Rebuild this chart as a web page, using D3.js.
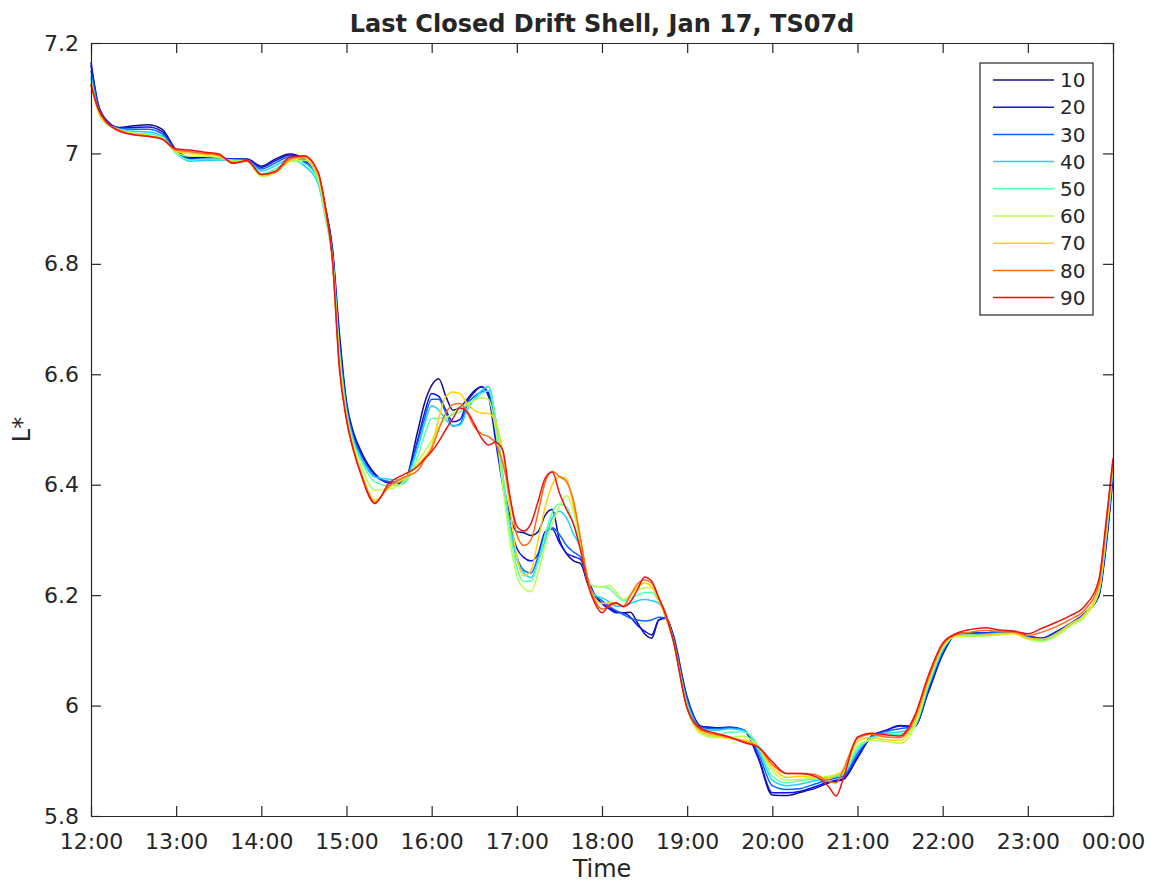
<!DOCTYPE html>
<html>
<head>
<meta charset="utf-8">
<script src="https://cdn.jsdelivr.net/npm/d3@7"></script>
<style>
  html, body { margin: 0; padding: 0; background: #fff; }
  svg { display: block; }
  text { font-family: "DejaVu Sans", sans-serif; fill: #262626; }
</style>
</head>
<body>
<script>
// Sample times, minutes after 12:00 on Jan 17
const minutes = [
  0, 5, 10, 20, 30, 40, 50, 60, 70, 80, 90, 100, 110, 120, 130, 140, 150, 160,
  165, 170, 175, 180, 185, 190, 200, 210, 220,
  230, 235, 240, 245, 250, 255, 260, 265, 270, 275, 280, 285, 290, 295, 300,
  305, 310, 315, 320, 325, 330, 335, 340, 345, 350, 355, 360, 365, 370, 375,
  380, 385, 390, 395, 400, 405, 410,
  420, 430, 440, 450, 460, 470, 480, 490, 500, 510, 520, 525, 530, 540, 550,
  560, 570, 580, 590, 600, 610, 620, 630, 640, 650, 660, 670, 680, 690, 700,
  710, 715, 720
];

// Equatorial pitch angles (deg) of the traced drift shells
const pitchAngles = [10, 20, 30, 40, 50, 60, 70, 80, 90];

// L* of the last closed drift shell, one array per pitch angle
const lstar10 = [
  7.165, 7.09, 7.063, 7.047, 7.05, 7.052, 7.044, 7.006, 6.993, 6.992, 6.991, 6.99, 6.99, 6.977, 6.99, 6.999, 6.99, 6.962,
  6.905, 6.83, 6.675, 6.55, 6.494, 6.462, 6.42, 6.403, 6.402,
  6.495, 6.548, 6.58, 6.592, 6.56, 6.535, 6.54, 6.555, 6.57, 6.577, 6.566, 6.49, 6.41, 6.345, 6.315,
  6.313, 6.308, 6.315, 6.345, 6.355, 6.3, 6.275, 6.262, 6.257, 6.22, 6.198, 6.185, 6.177, 6.17, 6.168,
  6.169, 6.15, 6.13, 6.122, 6.155, 6.16, 6.13,
  6.015, 5.962, 5.96, 5.96, 5.955, 5.905, 5.838, 5.837, 5.843, 5.85, 5.86, 5.863, 5.866, 5.905, 5.944,
  5.955, 5.964, 5.962, 6.025, 6.092, 6.13, 6.132, 6.132, 6.133, 6.133, 6.126, 6.122, 6.133, 6.148, 6.166,
  6.198, 6.285, 6.415
];
const lstar20 = [
  7.16, 7.088, 7.062, 7.046, 7.047, 7.048, 7.04, 7.006, 6.991, 6.991, 6.99, 6.99, 6.989, 6.975, 6.987, 6.997, 6.988, 6.958,
  6.9, 6.828, 6.665, 6.545, 6.49, 6.458, 6.418, 6.404, 6.403,
  6.48, 6.53, 6.565, 6.56, 6.535, 6.514, 6.518, 6.55, 6.567, 6.578, 6.56, 6.48, 6.4, 6.33, 6.285,
  6.268, 6.262, 6.275, 6.315, 6.32, 6.295, 6.276, 6.27, 6.264, 6.23, 6.2, 6.185, 6.175, 6.168, 6.168,
  6.16, 6.145, 6.135, 6.128, 6.155, 6.158, 6.125,
  6.012, 5.962, 5.96, 5.961, 5.956, 5.908, 5.842, 5.842, 5.845, 5.853, 5.862, 5.865, 5.868, 5.908, 5.945,
  5.955, 5.963, 5.962, 6.028, 6.095, 6.13, 6.132, 6.132, 6.134, 6.133, 6.126, 6.122, 6.134, 6.149, 6.167,
  6.2, 6.29, 6.42
];
const lstar30 = [
  7.15, 7.085, 7.06, 7.045, 7.044, 7.044, 7.036, 7.004, 6.989, 6.989, 6.989, 6.989, 6.988, 6.972, 6.983, 6.994, 6.985, 6.952,
  6.895, 6.825, 6.655, 6.54, 6.485, 6.452, 6.415, 6.406, 6.405,
  6.475, 6.52, 6.555, 6.555, 6.53, 6.506, 6.51, 6.545, 6.56, 6.568, 6.57, 6.5, 6.41, 6.33, 6.27,
  6.245, 6.24, 6.27, 6.31, 6.322, 6.31, 6.29, 6.278, 6.268, 6.225, 6.2, 6.19, 6.18, 6.172, 6.165,
  6.158, 6.155, 6.153, 6.155, 6.16, 6.158, 6.125,
  6.01, 5.96, 5.958, 5.96, 5.956, 5.915, 5.855, 5.848, 5.85, 5.858, 5.866, 5.869, 5.872, 5.913, 5.944,
  5.953, 5.958, 5.962, 6.032, 6.098, 6.129, 6.131, 6.131, 6.133, 6.133, 6.125, 6.121, 6.132, 6.148, 6.166,
  6.203, 6.295, 6.425
];
const lstar40 = [
  7.14, 7.08, 7.057, 7.044, 7.04, 7.039, 7.032, 7.0, 6.986, 6.987, 6.988, 6.988, 6.987, 6.968, 6.978, 6.99, 6.978, 6.945,
  6.885, 6.815, 6.645, 6.535, 6.48, 6.45, 6.414, 6.41, 6.408,
  6.465, 6.51, 6.543, 6.535, 6.518, 6.507, 6.508, 6.535, 6.555, 6.57, 6.578, 6.52, 6.42, 6.33, 6.265,
  6.24, 6.232, 6.26, 6.3, 6.34, 6.352, 6.34, 6.31, 6.285, 6.225, 6.2, 6.195, 6.188, 6.18, 6.18,
  6.185, 6.19, 6.192, 6.19, 6.185, 6.165, 6.12,
  6.005, 5.958, 5.955, 5.958, 5.955, 5.922, 5.865, 5.855, 5.858, 5.864, 5.868, 5.872, 5.876, 5.918, 5.942,
  5.95, 5.952, 5.962, 6.035, 6.1, 6.127, 6.128, 6.129, 6.131, 6.132, 6.123, 6.119, 6.13, 6.147, 6.165,
  6.205, 6.3, 6.43
];
const lstar50 = [
  7.135, 7.078, 7.055, 7.043, 7.037, 7.035, 7.03, 7.0, 6.988, 6.99, 6.99, 6.987, 6.986, 6.963, 6.972, 6.987, 6.982, 6.95,
  6.885, 6.812, 6.64, 6.53, 6.475, 6.445, 6.405, 6.398, 6.402,
  6.45, 6.49, 6.52, 6.52, 6.522, 6.527, 6.532, 6.545, 6.553, 6.565, 6.57, 6.52, 6.42, 6.32, 6.25,
  6.225, 6.225, 6.26, 6.31, 6.35, 6.365, 6.36, 6.33, 6.29, 6.23, 6.215, 6.215, 6.212, 6.2, 6.19,
  6.195, 6.2, 6.205, 6.205, 6.19, 6.165, 6.12,
  6.0, 5.952, 5.945, 5.952, 5.952, 5.928, 5.872, 5.86, 5.864, 5.867, 5.87, 5.873, 5.877, 5.923, 5.94,
  5.947, 5.948, 5.962, 6.038, 6.103, 6.126, 6.126, 6.127, 6.129, 6.131, 6.121, 6.117, 6.127, 6.145, 6.163,
  6.206, 6.305, 6.435
];
const lstar60 = [
  7.13, 7.076, 7.055, 7.043, 7.036, 7.033, 7.028, 7.002, 6.995, 6.995, 6.993, 6.986, 6.986, 6.958, 6.965, 6.985, 6.988, 6.955,
  6.89, 6.81, 6.63, 6.525, 6.47, 6.435, 6.39, 6.392, 6.405,
  6.44, 6.46, 6.48, 6.505, 6.52, 6.53, 6.539, 6.547, 6.553, 6.557, 6.555, 6.5, 6.4, 6.3, 6.235,
  6.212, 6.206, 6.24, 6.29, 6.33, 6.36, 6.38, 6.35, 6.29, 6.225, 6.216, 6.215, 6.218, 6.205, 6.192,
  6.2, 6.21, 6.213, 6.214, 6.195, 6.165, 6.12,
  5.995, 5.948, 5.942, 5.942, 5.945, 5.925, 5.882, 5.865, 5.866, 5.869, 5.872, 5.875, 5.879, 5.928, 5.937,
  5.935, 5.932, 5.96, 6.042, 6.105, 6.125, 6.125, 6.126, 6.128, 6.13, 6.12, 6.116, 6.126, 6.144, 6.161,
  6.208, 6.31, 6.438
];
const lstar70 = [
  7.125, 7.078, 7.057, 7.042, 7.035, 7.032, 7.027, 7.004, 7.0, 6.998, 6.995, 6.985, 6.986, 6.96, 6.966, 6.987, 6.992, 6.96,
  6.895, 6.81, 6.62, 6.52, 6.465, 6.425, 6.372, 6.395, 6.41,
  6.435, 6.45, 6.47, 6.52, 6.56, 6.568, 6.565, 6.547, 6.535, 6.53, 6.529, 6.515, 6.46, 6.36, 6.27,
  6.235, 6.245, 6.3, 6.36, 6.4, 6.414, 6.41, 6.36, 6.3, 6.225, 6.195, 6.185, 6.186, 6.185, 6.18,
  6.2, 6.215, 6.222, 6.215, 6.19, 6.16, 6.12,
  5.995, 5.952, 5.945, 5.94, 5.938, 5.925, 5.888, 5.87, 5.872, 5.87, 5.868, 5.875, 5.882, 5.935, 5.942,
  5.938, 5.937, 5.968, 6.046, 6.108, 6.127, 6.127, 6.128, 6.13, 6.131, 6.122, 6.12, 6.13, 6.148, 6.165,
  6.212, 6.315, 6.44
];
const lstar80 = [
  7.125, 7.08, 7.058, 7.042, 7.034, 7.031, 7.026, 7.006, 7.003, 7.0, 6.997, 6.983, 6.986, 6.962, 6.966, 6.99, 6.995, 6.965,
  6.9, 6.81, 6.615, 6.52, 6.463, 6.422, 6.368, 6.398, 6.413,
  6.425, 6.445, 6.465, 6.5, 6.53, 6.545, 6.547, 6.53, 6.505, 6.492, 6.487, 6.475, 6.44, 6.38, 6.31,
  6.29, 6.3, 6.35, 6.405, 6.424, 6.415, 6.405, 6.37, 6.3, 6.23, 6.19, 6.175, 6.18, 6.185, 6.18,
  6.2, 6.22, 6.228, 6.222, 6.195, 6.16, 6.12,
  5.995, 5.955, 5.948, 5.942, 5.935, 5.925, 5.893, 5.877, 5.877, 5.875, 5.862, 5.86, 5.884, 5.94, 5.948,
  5.943, 5.942, 5.975, 6.05, 6.11, 6.129, 6.133, 6.136, 6.134, 6.133, 6.127, 6.133, 6.143, 6.156, 6.173,
  6.22, 6.322, 6.445
];
const lstar90 = [
  7.125, 7.082, 7.06, 7.04, 7.034, 7.031, 7.026, 7.008, 7.006, 7.002, 6.999, 6.982, 6.987, 6.962, 6.968, 6.993, 6.996, 6.966,
  6.905, 6.81, 6.61, 6.517, 6.461, 6.42, 6.366, 6.403, 6.418,
  6.433, 6.447, 6.46, 6.478, 6.5, 6.52, 6.539, 6.532, 6.51, 6.485, 6.472, 6.477, 6.463, 6.38, 6.325,
  6.316, 6.33, 6.37, 6.412, 6.423, 6.385, 6.355, 6.328, 6.28, 6.22, 6.185, 6.168, 6.182, 6.186, 6.179,
  6.188, 6.21, 6.233, 6.225, 6.195, 6.165, 6.12,
  5.995, 5.958, 5.95, 5.943, 5.933, 5.925, 5.898, 5.877, 5.877, 5.872, 5.852, 5.836, 5.868, 5.943, 5.95,
  5.947, 5.945, 5.98, 6.055, 6.113, 6.131, 6.138, 6.141, 6.137, 6.135, 6.13, 6.14, 6.151, 6.163, 6.18,
  6.228, 6.33, 6.448
];

// Axis ticks
const timeTickMinutes = [0, 60, 120, 180, 240, 300, 360, 420, 480, 540, 600, 660, 720];
const timeTickLabels = ["12:00", "13:00", "14:00", "15:00", "16:00", "17:00", "18:00",
                        "19:00", "20:00", "21:00", "22:00", "23:00", "00:00"];
const lstarTickValues = [5.8, 6, 6.2, 6.4, 6.6, 6.8, 7, 7.2];
const lstarTickLabels = ["5.8", "6", "6.2", "6.4", "6.6", "6.8", "7", "7.2"];

// Jet-like line colours, low to high pitch angle
const lineColors = ["#10108f", "#1010f0", "#0a64ff", "#18d4ff", "#5cffb0",
                    "#b8ff50", "#ffd200", "#ff6a14", "#f01212"];

const seriesValues = [lstar10, lstar20, lstar30, lstar40, lstar50, lstar60, lstar70, lstar80, lstar90];

const W = 1155, H = 883;
const margin = { left: 91, top: 43, right: 42, bottom: 67 };
const plotW = W - margin.left - margin.right;
const plotH = H - margin.top - margin.bottom;

const svg = d3.select("body").append("svg")
  .attr("width", W).attr("height", H)
  .attr("viewBox", `0 0 ${W} ${H}`);

svg.append("rect").attr("width", W).attr("height", H).attr("fill", "#fff");

const x = d3.scaleLinear().domain([0, 720]).range([0, plotW]);
const y = d3.scaleLinear().domain([5.8, 7.2]).range([plotH, 0]);

const g = svg.append("g").attr("transform", `translate(${margin.left},${margin.top})`);

// Drift shell curves
const line = d3.line()
  .x((d, i) => x(minutes[i]))
  .y(d => y(d))
  .curve(d3.curveMonotoneX);

g.append("g").attr("class", "curves")
  .selectAll("path")
  .data(seriesValues)
  .join("path")
  .attr("d", d => line(d))
  .attr("fill", "none")
  .attr("stroke", (d, i) => lineColors[i])
  .attr("stroke-width", 1.5)
  .attr("stroke-linejoin", "round");

// Axes: ticks point inward on all four sides
const axisColor = "#262626";
const styleAxis = sel => {
  sel.select(".domain").attr("stroke", axisColor).attr("stroke-width", 1.2);
  sel.selectAll(".tick line").attr("stroke", axisColor).attr("stroke-width", 1.2);
  sel.selectAll(".tick text").attr("fill", axisColor);
};

const xAxis = d3.axisBottom(x)
  .tickValues(timeTickMinutes)
  .tickFormat((d, i) => timeTickLabels[i])
  .tickSizeInner(-10).tickSizeOuter(0).tickPadding(17);
g.append("g").attr("transform", `translate(0,${plotH})`).call(xAxis)
  .call(styleAxis)
  .call(s => s.selectAll(".tick text").attr("font-size", 22).attr("font-family", "DejaVu Sans"));

const xAxisTop = d3.axisTop(x).tickValues(timeTickMinutes).tickFormat("")
  .tickSizeInner(-10).tickSizeOuter(0);
g.append("g").call(xAxisTop).call(styleAxis);

const yAxis = d3.axisLeft(y)
  .tickValues(lstarTickValues)
  .tickFormat((d, i) => lstarTickLabels[i])
  .tickSizeInner(-10).tickSizeOuter(0).tickPadding(12);
g.append("g").call(yAxis).call(styleAxis)
  .call(s => s.selectAll(".tick text").attr("font-size", 22).attr("font-family", "DejaVu Sans"));

const yAxisRight = d3.axisRight(y).tickValues(lstarTickValues).tickFormat("")
  .tickSizeInner(-10).tickSizeOuter(0);
g.append("g").attr("transform", `translate(${plotW},0)`).call(yAxisRight).call(styleAxis);

// Titles
svg.append("text")
  .attr("x", margin.left + plotW / 2).attr("y", 32)
  .attr("text-anchor", "middle")
  .attr("font-size", 24).attr("font-weight", "bold")
  .text("Last Closed Drift Shell, Jan 17, TS07d");

svg.append("text")
  .attr("x", margin.left + plotW / 2).attr("y", 877)
  .attr("text-anchor", "middle")
  .attr("font-size", 24)
  .text("Time");

svg.append("text")
  .attr("transform", `translate(30,${margin.top + plotH / 2}) rotate(-90)`)
  .attr("text-anchor", "middle")
  .attr("font-size", 24)
  .text("L*");

// Legend
const legend = svg.append("g").attr("transform", "translate(980,63)");
legend.append("rect")
  .attr("width", 113).attr("height", 252)
  .attr("fill", "#fff").attr("stroke", axisColor).attr("stroke-width", 1.2);
const rows = legend.selectAll("g.row")
  .data(pitchAngles)
  .join("g").attr("class", "row")
  .attr("transform", (d, i) => `translate(0,${17 + i * 27.2})`);
rows.append("line")
  .attr("x1", 13).attr("x2", 74)
  .attr("stroke", (d, i) => lineColors[i]).attr("stroke-width", 1.5);
rows.append("text")
  .attr("x", 80).attr("dy", "0.36em")
  .attr("font-size", 20)
  .text(d => d);
</script>
</body>
</html>
